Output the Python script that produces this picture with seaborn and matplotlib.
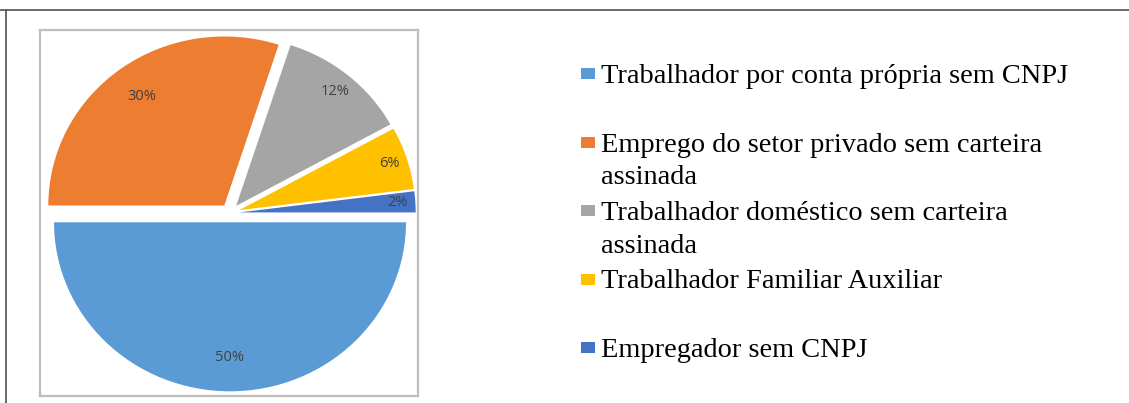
import matplotlib
matplotlib.use("Agg")
import matplotlib.pyplot as plt
from matplotlib.patches import Rectangle
import numpy as np
import seaborn as sns

categories = [
    "Trabalhador por conta própria sem CNPJ",
    "Emprego do setor privado sem carteira\nassinada",
    "Trabalhador doméstico sem carteira\nassinada",
    "Trabalhador Familiar Auxiliar",
    "Empregador sem CNPJ",
]
values = [50, 30, 12, 6, 2]
colors = ["#5B9BD5", "#ED7D31", "#A5A5A5", "#FFC000", "#4472C4"]

sns.set_theme(style="white")
plt.rcParams["font.family"] = ["DejaVu Sans"]

W, H = 1129, 403
fig = plt.figure(figsize=(W / 100, H / 100), dpi=100)
fig.patch.set_facecolor("white")

# pie axes (inner chart box)
bx0, by0, bx1, by1 = 40, 30, 418, 396
ax = fig.add_axes([bx0 / W, 1 - by1 / H, (bx1 - bx0) / W, (by1 - by0) / H])
palette = sns.color_palette(colors)
explode = 0.055
wedges, texts, autotexts = ax.pie(
    values, colors=palette, startangle=0, counterclock=False,
    explode=[explode] * len(values),
    autopct=lambda p: f"{p:.0f}%", pctdistance=0.86,
    wedgeprops=dict(linewidth=0),
    textprops=dict(color="#404040", fontsize=10.5, family="Open Sans"),
)
# label placement factors (Excel best-fit look)
label_dist = [0.80, 0.80, 0.88, 0.90, 0.90]
for w, t, d in zip(wedges, autotexts, label_dist):
    th = np.deg2rad((w.theta1 + w.theta2) / 2)
    t.set_position(((explode + d) * np.cos(th), (explode + d) * np.sin(th)))

cx, cy, sx, sy = 230, 213, 176, 169
ax.set_aspect("auto")
ax.set_xlim((bx0 - cx) / sx, (bx1 - cx) / sx)
ax.set_ylim((cy - by1) / sy, (cy - by0) / sy)
ax.set_frame_on(True)
for s in ax.spines.values():
    s.set_color("#BFBFBF")
    s.set_linewidth(1.6)
ax.set_xticks([])
ax.set_yticks([])

# overlay axes in pixel coordinates for frame and legend
lax = fig.add_axes([0, 0, 1, 1])
lax.set_xlim(0, W)
lax.set_ylim(H, 0)
lax.axis("off")
lax.plot([0, W], [10, 10], color="#505050", lw=1.2, solid_capstyle="butt")
lax.plot([6, 6], [10, H], color="#505050", lw=1.2, solid_capstyle="butt")

base0, step, lsp = 83, 68.5, 33
for i, (lab, col) in enumerate(zip(categories, palette)):
    yb = base0 + i * step
    lax.add_patch(Rectangle((581, yb - 15), 14, 11, facecolor=col, edgecolor="none"))
    for j, line in enumerate(lab.split("\n")):
        lax.text(601, yb + j * lsp, line, family="Liberation Serif", fontsize=20.4,
                 color="#000000", va="baseline", ha="left")

fig.savefig("out.png", dpi=100, facecolor="white")
